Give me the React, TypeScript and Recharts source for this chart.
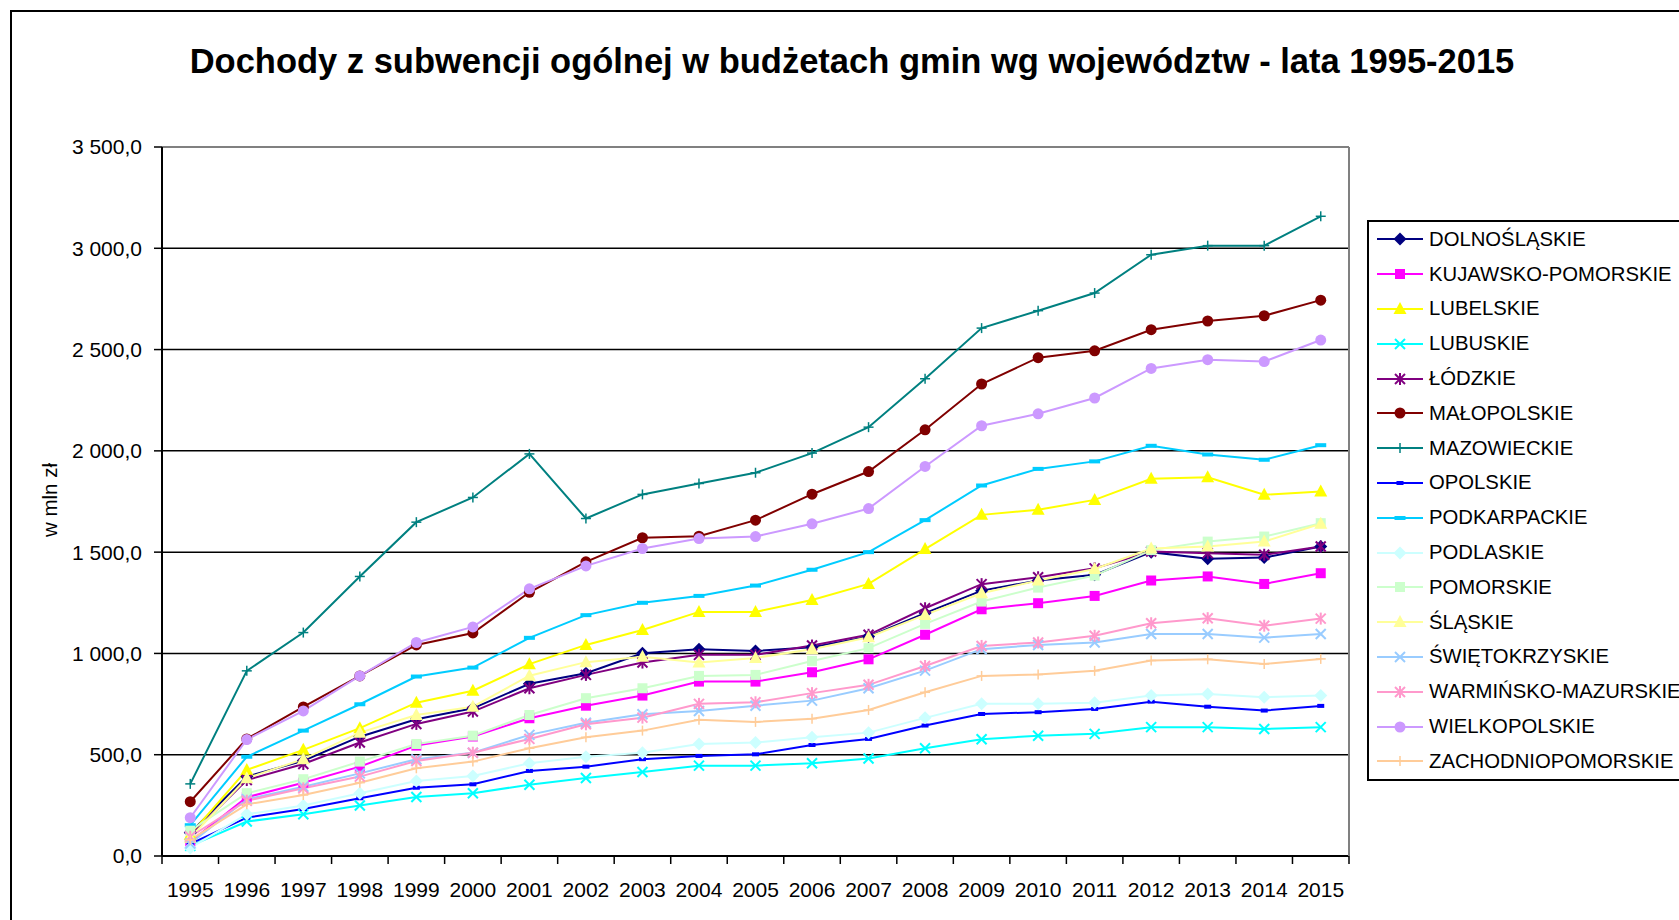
import React from 'react';
import { LineChart, Line, XAxis, YAxis, ReferenceLine } from 'recharts';

const years = ['1995', '1996', '1997', '1998', '1999', '2000', '2001', '2002', '2003', '2004', '2005', '2006', '2007', '2008', '2009', '2010', '2011', '2012', '2013', '2014', '2015'];

const dolnoslaskie = [115, 392, 470, 589, 675, 729, 850, 902, 1001, 1021, 1012, 1031, 1083, 1199, 1310, 1360, 1388, 1500, 1467, 1473, 1528];
const kujawskoPomorskie = [70, 290, 362, 441, 545, 590, 680, 742, 792, 861, 861, 907, 971, 1092, 1218, 1248, 1284, 1360, 1380, 1343, 1396];
const lubelskie = [105, 425, 524, 631, 757, 816, 947, 1042, 1116, 1205, 1205, 1264, 1343, 1515, 1684, 1709, 1758, 1862, 1870, 1783, 1799];
const lubuskie = [50, 170, 206, 249, 291, 310, 352, 385, 415, 446, 446, 458, 481, 532, 576, 594, 603, 636, 636, 627, 636];
const lodzkie = [100, 375, 454, 560, 652, 713, 828, 894, 955, 993, 993, 1039, 1092, 1223, 1342, 1376, 1420, 1503, 1495, 1487, 1528];
const malopolskie = [268, 578, 736, 889, 1042, 1101, 1302, 1452, 1571, 1579, 1658, 1786, 1898, 2104, 2330, 2460, 2494, 2598, 2641, 2667, 2744];
const mazowieckie = [356, 914, 1103, 1380, 1648, 1770, 1985, 1666, 1785, 1839, 1892, 1989, 2117, 2356, 2606, 2692, 2779, 2968, 3013, 3013, 3158];
const opolskie = [60, 189, 232, 285, 337, 354, 420, 441, 478, 494, 502, 548, 578, 644, 701, 710, 726, 762, 737, 718, 741];
const podkarpackie = [152, 490, 619, 749, 886, 930, 1077, 1189, 1250, 1284, 1335, 1413, 1500, 1658, 1829, 1911, 1948, 2025, 1982, 1956, 2028];
const podlaskie = [40, 206, 249, 310, 370, 395, 458, 490, 510, 553, 560, 586, 609, 682, 751, 751, 757, 792, 800, 784, 792];
const pomorskie = [125, 310, 379, 466, 553, 594, 696, 779, 828, 889, 894, 963, 1026, 1146, 1256, 1325, 1384, 1510, 1552, 1577, 1643];
const slaskie = [90, 384, 478, 609, 696, 737, 890, 957, 984, 955, 978, 1021, 1080, 1190, 1297, 1360, 1417, 1518, 1528, 1552, 1640];
const swietokrzyskie = [62, 280, 342, 408, 478, 510, 598, 658, 700, 716, 742, 767, 828, 915, 1021, 1042, 1054, 1096, 1096, 1078, 1096];
const warminskoMazurskie = [95, 273, 334, 392, 469, 510, 578, 650, 683, 751, 759, 804, 845, 938, 1037, 1054, 1087, 1149, 1174, 1137, 1172];
const wielkopolskie = [189, 575, 716, 889, 1054, 1131, 1319, 1432, 1518, 1567, 1577, 1640, 1715, 1923, 2124, 2183, 2261, 2407, 2450, 2441, 2547];
const zachodniopomorskie = [80, 255, 301, 362, 433, 466, 532, 586, 619, 672, 662, 678, 721, 808, 889, 896, 914, 965, 971, 948, 973];

const yTicks = [0, 500, 1000, 1500, 2000, 2500, 3000, 3500];
const gridValues = [500, 1000, 1500, 2000, 2500, 3000];

type Shape = 'diamond' | 'square' | 'triangle' | 'x' | 'star' | 'circle' | 'plus' | 'dash' | 'longdash';

const series: { key: string; name: string; color: string; shape: Shape; values: number[] }[] = [
  { key: 'dol', name: 'DOLNOŚLĄSKIE', color: '#000080', shape: 'diamond', values: dolnoslaskie },
  { key: 'kuj', name: 'KUJAWSKO-POMORSKIE', color: '#FF00FF', shape: 'square', values: kujawskoPomorskie },
  { key: 'lbl', name: 'LUBELSKIE', color: '#FFFF00', shape: 'triangle', values: lubelskie },
  { key: 'lbs', name: 'LUBUSKIE', color: '#00FFFF', shape: 'x', values: lubuskie },
  { key: 'lod', name: 'ŁÓDZKIE', color: '#800080', shape: 'star', values: lodzkie },
  { key: 'mal', name: 'MAŁOPOLSKIE', color: '#800000', shape: 'circle', values: malopolskie },
  { key: 'maz', name: 'MAZOWIECKIE', color: '#008080', shape: 'plus', values: mazowieckie },
  { key: 'opo', name: 'OPOLSKIE', color: '#0000FF', shape: 'dash', values: opolskie },
  { key: 'pkr', name: 'PODKARPACKIE', color: '#00CCFF', shape: 'longdash', values: podkarpackie },
  { key: 'pdl', name: 'PODLASKIE', color: '#CCFFFF', shape: 'diamond', values: podlaskie },
  { key: 'pom', name: 'POMORSKIE', color: '#CCFFCC', shape: 'square', values: pomorskie },
  { key: 'sla', name: 'ŚLĄSKIE', color: '#FFFF99', shape: 'triangle', values: slaskie },
  { key: 'swi', name: 'ŚWIĘTOKRZYSKIE', color: '#99CCFF', shape: 'x', values: swietokrzyskie },
  { key: 'war', name: 'WARMIŃSKO-MAZURSKIE', color: '#FF99CC', shape: 'star', values: warminskoMazurskie },
  { key: 'wie', name: 'WIELKOPOLSKIE', color: '#CC99FF', shape: 'circle', values: wielkopolskie },
  { key: 'zach', name: 'ZACHODNIOPOMORSKIE', color: '#FFCC99', shape: 'plus', values: zachodniopomorskie },
];

const data = years.map((year, i) => {
  const row: Record<string, string | number> = { year };
  series.forEach((s) => { row[s.key] = s.values[i]; });
  return row;
});

// layout
const W = 1679;
const H = 920;
const M = { top: 147, right: 330, bottom: 14, left: 62 };
const Y_W = 100;
const X_H = 50;
const PLOT_LEFT = M.left + Y_W;
const PLOT_RIGHT = W - M.right;
const PLOT_BOTTOM = H - M.bottom - X_H;
const CAT = (PLOT_RIGHT - PLOT_LEFT) / years.length;
const FONT = '"Liberation Sans", Arial, sans-serif';

const fmt = (v: number) => v.toFixed(1).replace('.', ',').replace(/\B(?=(\d{3})+(?!\d))/, ' ');

function Marker({ cx, cy, shape, color }: { cx: number; cy: number; shape: Shape; color: string }) {
  switch (shape) {
    case 'diamond':
      return <polygon points={`${cx},${cy - 6.5} ${cx + 6.5},${cy} ${cx},${cy + 6.5} ${cx - 6.5},${cy}`} fill={color} />;
    case 'square':
      return <rect x={cx - 5} y={cy - 5} width={10} height={10} fill={color} />;
    case 'triangle':
      return <polygon points={`${cx},${cy - 7} ${cx + 6.5},${cy + 5} ${cx - 6.5},${cy + 5}`} fill={color} />;
    case 'x':
      return (
        <g stroke={color} strokeWidth={2}>
          <line x1={cx - 5} y1={cy - 5} x2={cx + 5} y2={cy + 5} />
          <line x1={cx - 5} y1={cy + 5} x2={cx + 5} y2={cy - 5} />
        </g>
      );
    case 'star':
      return (
        <g stroke={color} strokeWidth={2}>
          <line x1={cx - 5} y1={cy - 5} x2={cx + 5} y2={cy + 5} />
          <line x1={cx - 5} y1={cy + 5} x2={cx + 5} y2={cy - 5} />
          <line x1={cx} y1={cy - 6} x2={cx} y2={cy + 6} />
        </g>
      );
    case 'circle':
      return <circle cx={cx} cy={cy} r={5.5} fill={color} />;
    case 'plus':
      return (
        <g stroke={color} strokeWidth={1.5}>
          <line x1={cx - 5} y1={cy} x2={cx + 5} y2={cy} />
          <line x1={cx} y1={cy - 5} x2={cx} y2={cy + 5} />
        </g>
      );
    case 'dash':
      return <rect x={cx - 3.5} y={cy - 2} width={7} height={4} fill={color} />;
    case 'longdash':
      return <rect x={cx - 5.5} y={cy - 2} width={11} height={4} fill={color} />;
  }
  return null;
}

const makeDot = (shape: Shape, color: string) => (p: any) => {
  if (p.cx == null || p.cy == null) return <g key={p.index} />;
  return <Marker key={p.index} cx={p.cx} cy={p.cy} shape={shape} color={color} />;
};

const YearTick = (props: any) => {
  const { x, payload } = props;
  const last = payload.value === years[years.length - 1];
  return (
    <g>
      <line x1={x - CAT / 2} y1={PLOT_BOTTOM} x2={x - CAT / 2} y2={PLOT_BOTTOM + 8} stroke="#000" strokeWidth={1.5} />
      {last && <line x1={x + CAT / 2} y1={PLOT_BOTTOM} x2={x + CAT / 2} y2={PLOT_BOTTOM + 8} stroke="#000" strokeWidth={1.5} />}
      <text x={x} y={PLOT_BOTTOM + 33} textAnchor="middle" dominantBaseline="central" fontSize={21} fill="#000" fontFamily={FONT}>
        {payload.value}
      </text>
    </g>
  );
};

export default function App() {
  return (
    <div style={{ position: 'fixed', left: 0, top: 0, width: W, height: H, overflow: 'hidden', background: '#fff', fontFamily: FONT }}>
      <div style={{ position: 'absolute', left: 10, top: 10, width: 2000, height: 2000, border: '2px solid #000' }} />
      <div style={{ position: 'absolute', left: 0, top: 41, width: 1704, textAlign: 'center', fontSize: 34.5, lineHeight: '40px', fontWeight: 'bold', color: '#000' }}>
        Dochody z subwencji ogólnej w budżetach gmin wg województw - lata 1995-2015
      </div>
      <div style={{ position: 'absolute', left: 0, top: 0 }}>
        <LineChart width={W} height={H} data={data} margin={M}>
          {gridValues.map((v) => (
            <ReferenceLine key={v} y={v} stroke="#000" strokeWidth={1.5} />
          ))}
          <ReferenceLine y={3500} stroke="#808080" strokeWidth={2} />
          <XAxis
            dataKey="year"
            height={X_H}
            interval={0}
            padding={{ left: CAT / 2, right: CAT / 2 }}
            axisLine={{ stroke: '#000', strokeWidth: 2 }}
            tickLine={false}
            tick={<YearTick />}
          />
          <YAxis
            width={Y_W}
            domain={[0, 3500]}
            ticks={yTicks}
            interval={0}
            tickFormatter={fmt}
            tickSize={8}
            tickMargin={12}
            axisLine={{ stroke: '#000', strokeWidth: 2 }}
            tickLine={{ stroke: '#000', strokeWidth: 1.5 }}
            tick={{ fontSize: 21, fill: '#000', fontFamily: FONT }}
          />
          {series.map((s) => (
            <Line
              key={s.key}
              dataKey={s.key}
              name={s.name}
              type="linear"
              stroke={s.color}
              strokeWidth={2}
              dot={makeDot(s.shape, s.color)}
              activeDot={false}
              isAnimationActive={false}
            />
          ))}
        </LineChart>
      </div>
      <div style={{ position: 'absolute', left: PLOT_RIGHT - 1, top: M.top, height: PLOT_BOTTOM - M.top, borderLeft: '2px solid #808080' }} />
      <div
        style={{
          position: 'absolute', left: -10, top: 488, width: 120, height: 24, lineHeight: '24px', textAlign: 'center',
          transform: 'rotate(-90deg)', fontSize: 20.5, color: '#000', whiteSpace: 'nowrap',
        }}
      >
        w mln zł
      </div>
      <div style={{ position: 'absolute', left: 1367, top: 220, width: 420, boxSizing: 'border-box', border: '2px solid #000', background: '#fff' }}>
        {series.map((s) => (
          <div key={s.key} style={{ display: 'flex', alignItems: 'center', height: 34.8 }}>
            <svg width={60} height={34} style={{ flex: 'none' }}>
              <line x1={8} y1={17} x2={54} y2={17} stroke={s.color} strokeWidth={2} />
              <Marker cx={31} cy={17} shape={s.shape} color={s.color} />
            </svg>
            <span style={{ fontSize: 20.3, color: '#000', whiteSpace: 'nowrap' }}>{s.name}</span>
          </div>
        ))}
      </div>
    </div>
  );
}
